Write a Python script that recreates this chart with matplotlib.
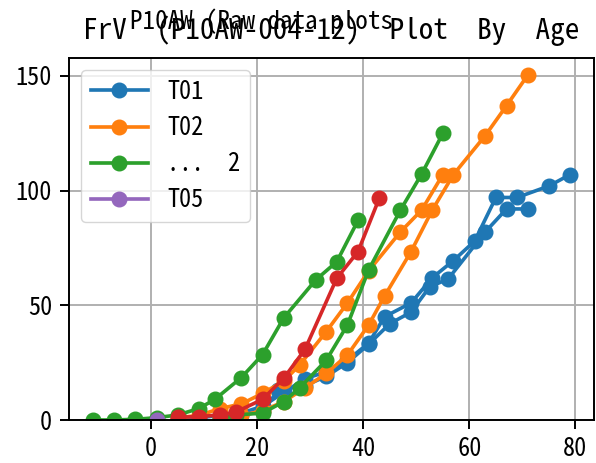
import matplotlib
matplotlib.use("Agg")
import matplotlib.pyplot as plt

plt.rcParams['font.family'] = ['Noto Sans Mono CJK JP', 'Noto Sans CJK JP', 'DejaVu Sans']

S = 1.75
# ---- data ----
t01_a_x = [5, 9, 13, 17, 21, 25, 29, 33, 37, 41, 44, 49, 53, 57, 61, 65, 69, 75, 79]
t01_a_y = [0.5, 1, 2, 3, 6, 12, 18, 21, 26, 33.5, 45, 51, 62, 69.5, 78, 97, 97, 102, 107]
t01_b_x = [13, 17, 21, 24, 29, 33, 37, 41, 45, 49, 52.5, 56, 63, 67, 71]
t01_b_y = [1, 2, 4, 13, 15, 19, 25, 33, 42, 47, 58, 61.5, 82, 92, 92]

t02_a_x = [5, 9, 13, 17, 21, 25, 28, 33, 37, 41, 47, 51, 55]
t02_a_y = [1, 2, 5, 7, 11.6, 17, 24, 38.5, 51, 65, 82, 91.5, 107]
t02_b_x = [13, 17, 21, 25, 29, 33, 37, 41, 44, 49, 53, 57, 63, 67, 71]
t02_b_y = [1, 2, 4, 8, 14, 20.3, 28.3, 41.4, 54, 73.4, 91.5, 107, 124, 137, 150.3]

t03_a_x = [-11, -7, -3, 1, 5, 9, 12, 17, 21, 25, 31, 35, 39]
t03_a_y = [0, 0, 0.3, 1, 2.2, 5, 9, 18.5, 28.5, 44.5, 61, 69, 87]
t03_b_x = [13, 16, 21, 25, 28, 33, 37, 41, 47, 51, 55]
t03_b_y = [0.5, 2.2, 3, 8, 14, 26, 41.4, 65.4, 91.5, 107.2, 125]

t04_x = [5, 9, 13, 16, 21, 25, 29, 35, 39, 43]
t04_y = [1.2, 1.5, 2.2, 3.5, 9, 18.2, 30.8, 61.8, 73.4, 96.6]

t05_x = [1]
t05_y = [0]

series = [
    ("T01", "#1f77b4", [(t01_a_x, t01_a_y), (t01_b_x, t01_b_y)]),
    ("T02", "#ff7f0e", [(t02_a_x, t02_a_y), (t02_b_x, t02_b_y)]),
    ("...  2", "#2ca02c", [(t03_a_x, t03_a_y), (t03_b_x, t03_b_y)]),
    ("_T04", "#d62728", [(t04_x, t04_y)]),
    ("T05", "#9467bd", [(t05_x, t05_y)]),
]

fig = plt.figure(figsize=(5.96, 4.63), dpi=100)
ax = fig.add_axes([69/596, 43/463, (594-69)/596, (420-58)/463])

for label, color, lines in series:
    for i, (xs, ys) in enumerate(lines):
        ax.plot(xs, ys, marker='o', color=color, lw=1.5*S, ms=6*S,
                label=label if i == 0 else "_nolegend_")

ax.set_xlim(-15.5, 83.5)
ax.set_ylim(0, 157.8)
ax.set_xticks([0, 20, 40, 60, 80])
ax.set_yticks([0, 50, 100, 150])
ax.grid(True, color='#b0b0b0', lw=0.8*S)
ax.set_axisbelow(True)
for sp in ax.spines.values():
    sp.set_linewidth(0.8*S)
ax.tick_params(labelsize=10*S, length=3.5*S, width=0.8*S, pad=3.5*S)

ax.legend(loc='upper left', fontsize=10*S, handlelength=2.35, borderaxespad=0.5)

ax.set_title("FrV  (P10AW-004-12)  Plot  By  Age", fontsize=12*S, pad=13.5)
fig.text(261/596, 1-28.5/463, "P10AW (Raw data plots", fontsize=18,
         ha='center', va='baseline')

fig.savefig("out.png", dpi=100)
